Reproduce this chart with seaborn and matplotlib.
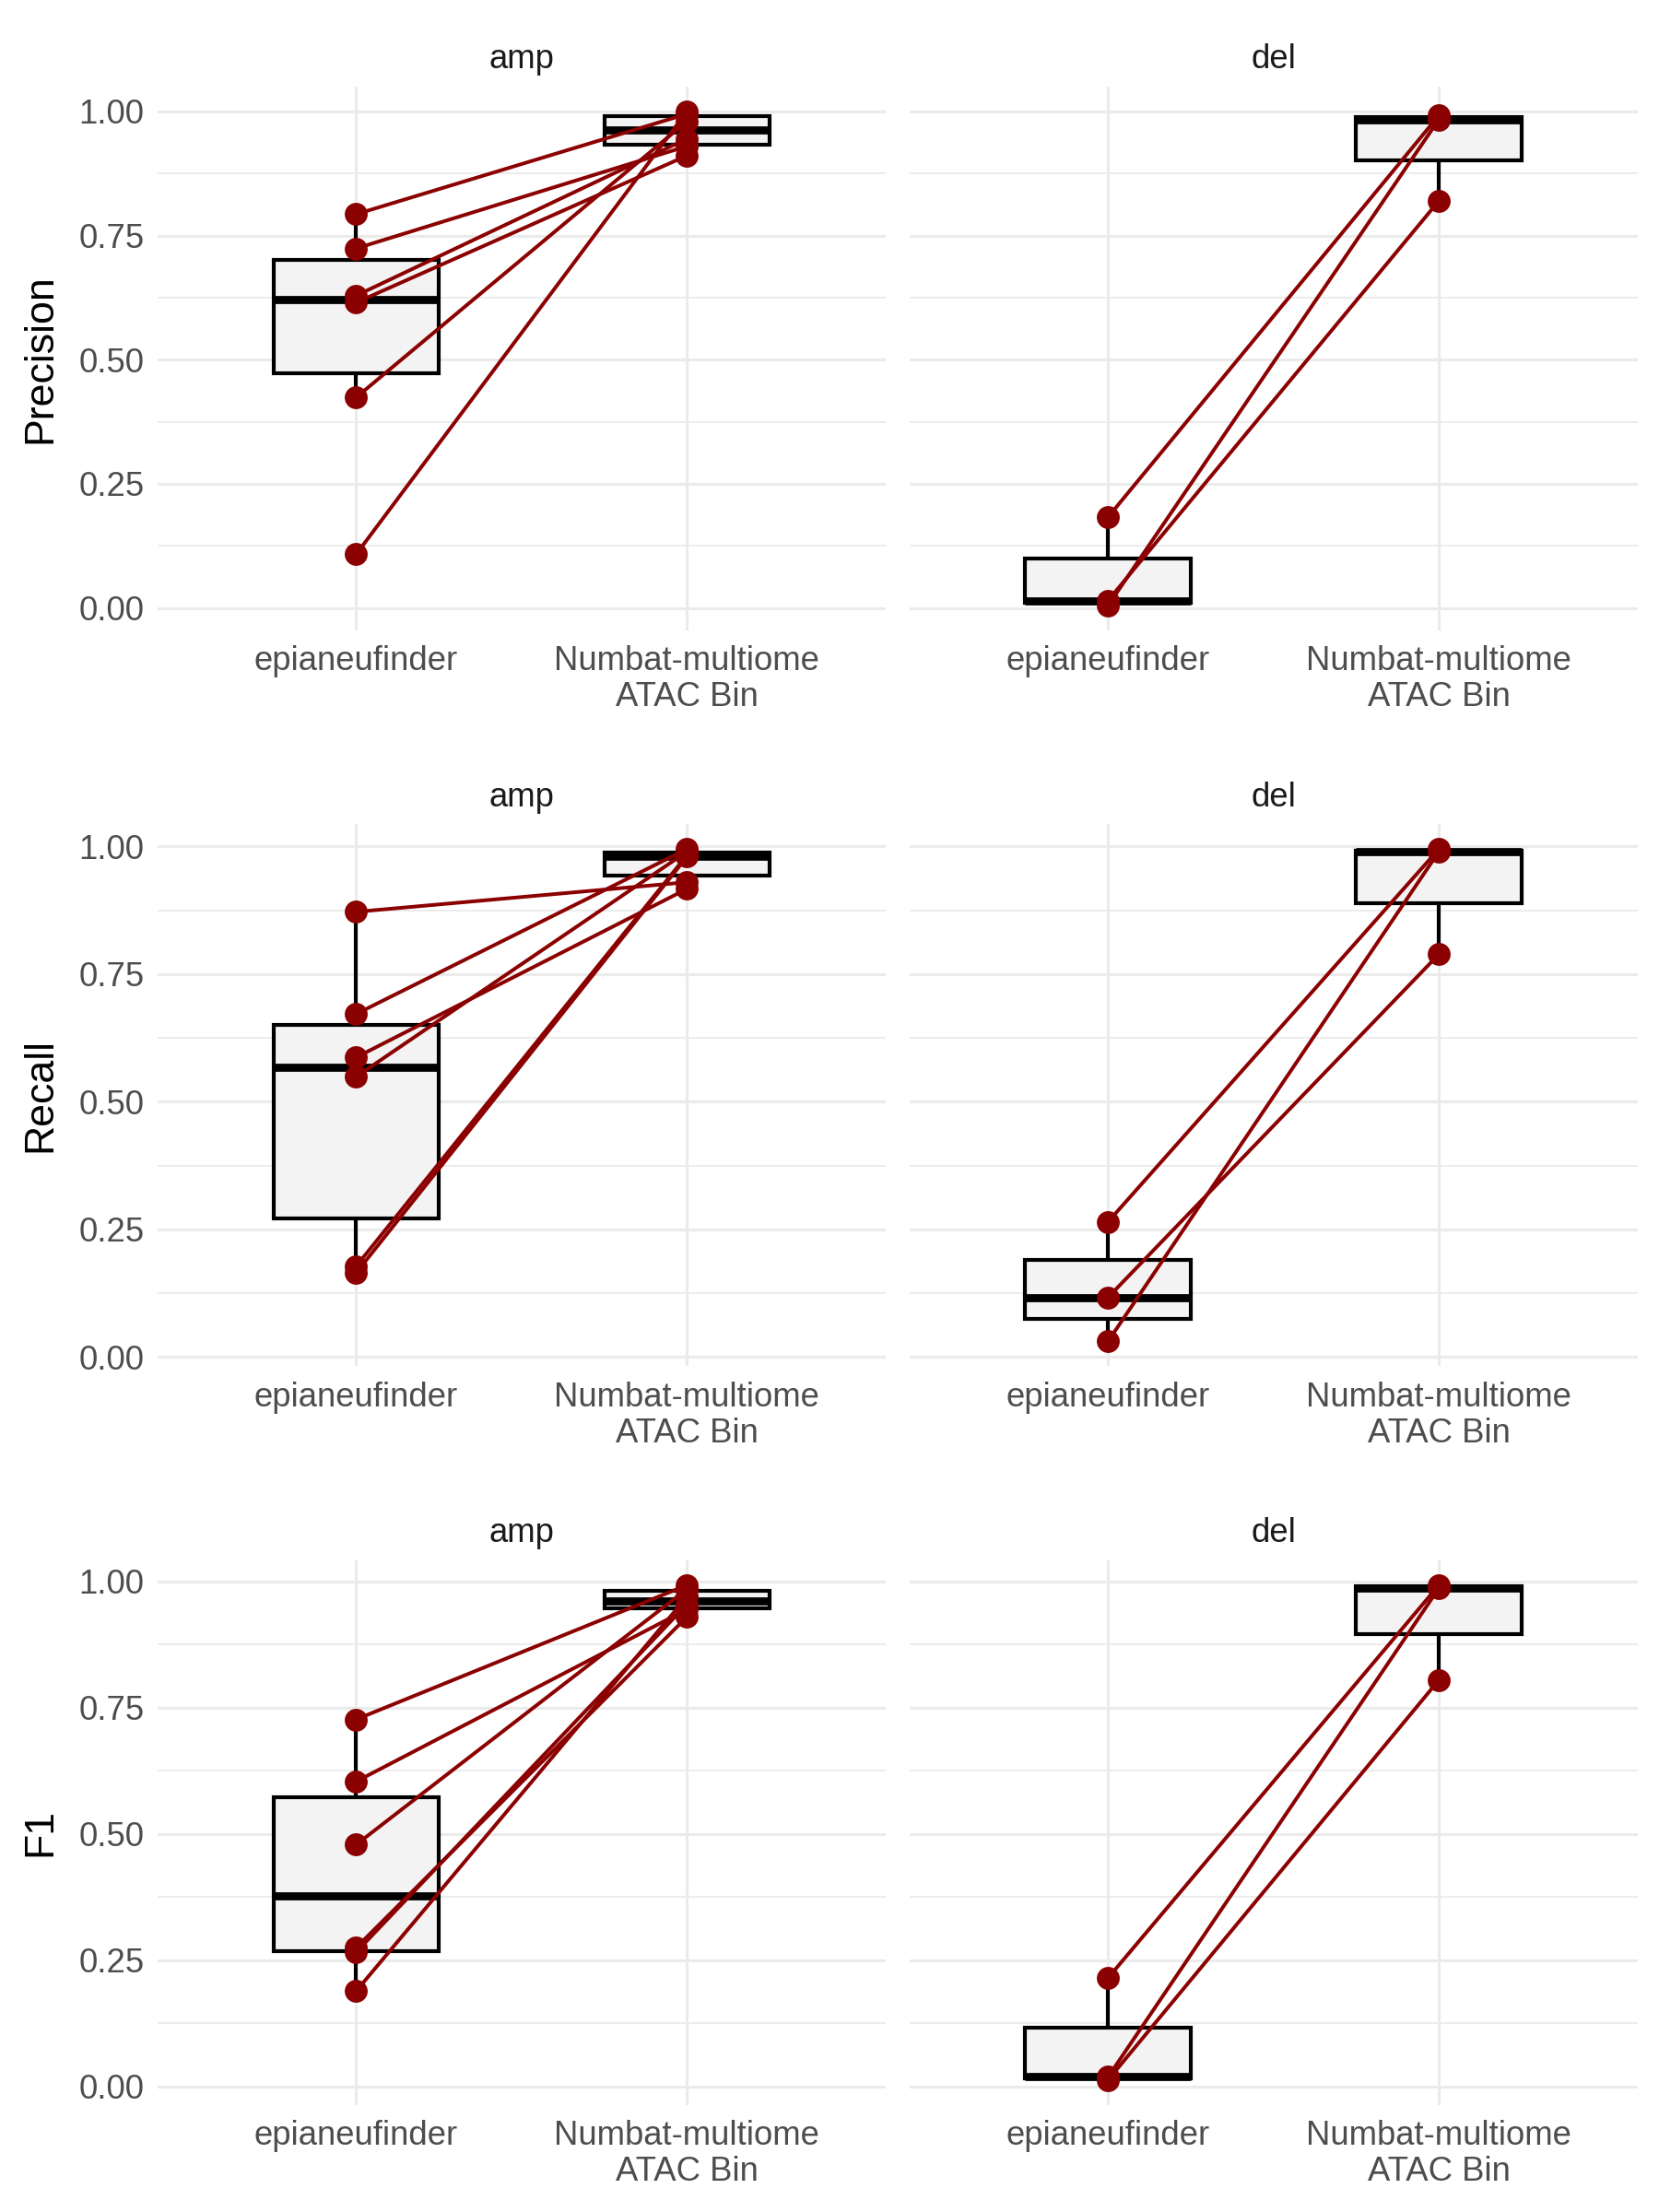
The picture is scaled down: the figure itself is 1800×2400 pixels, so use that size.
import pandas as pd
import matplotlib
matplotlib.use("Agg")
import matplotlib.pyplot as plt
from matplotlib.ticker import MultipleLocator, FormatStrFormatter
import seaborn as sns

methods = ["epianeufinder", "Numbat-multiome\nATAC Bin"]
metrics = ["Precision", "Recall", "F1"]
cnv_types = ["amp", "del"]

# values per sample, same order in both methods so the lines pair up
precision_amp_epi = [0.793, 0.724, 0.629, 0.615, 0.424, 0.108]
precision_amp_numbat = [0.995, 0.930, 0.945, 0.911, 0.980, 1.000]
precision_del_epi = [0.183, 0.005, 0.015]
precision_del_numbat = [0.992, 0.984, 0.820]

recall_amp_epi = [0.872, 0.672, 0.587, 0.549, 0.178, 0.165]
recall_amp_numbat = [0.930, 0.995, 0.917, 0.990, 0.983, 0.980]
recall_del_epi = [0.265, 0.117, 0.031]
recall_del_numbat = [0.995, 0.789, 0.990]

f1_amp_epi = [0.727, 0.604, 0.479, 0.275, 0.266, 0.189]
f1_amp_numbat = [0.993, 0.945, 0.985, 0.930, 0.955, 0.970]
f1_del_epi = [0.215, 0.019, 0.013]
f1_del_numbat = [0.993, 0.987, 0.805]

panel_values = {
    ("Precision", "amp"): (precision_amp_epi, precision_amp_numbat),
    ("Precision", "del"): (precision_del_epi, precision_del_numbat),
    ("Recall", "amp"): (recall_amp_epi, recall_amp_numbat),
    ("Recall", "del"): (recall_del_epi, recall_del_numbat),
    ("F1", "amp"): (f1_amp_epi, f1_amp_numbat),
    ("F1", "del"): (f1_del_epi, f1_del_numbat),
}

rows = []
for (metric, cnv), (epi, numbat) in panel_values.items():
    for i, (a, b) in enumerate(zip(epi, numbat)):
        rows.append(dict(metric=metric, cnv=cnv, method=methods[0], value=a, pair=i))
        rows.append(dict(metric=metric, cnv=cnv, method=methods[1], value=b, pair=i))
df = pd.DataFrame(rows)

sns.set_theme(style="white")
plt.rcParams["font.family"] = ["Liberation Sans", "DejaVu Sans"]

red = "#8B0000"
grid_col = "#EBEBEB"

fig, axes = plt.subplots(3, 2, figsize=(12, 16), dpi=150, sharey="row")
fig.subplots_adjust(left=0.095, right=0.987, top=0.960, bottom=0.047,
                    wspace=0.033, hspace=0.355)

# each row is its own stacked plot, slightly different heights (bottom, top)
row_spans = [(0.7151, 0.9608), (0.3825, 0.6273), (0.0485, 0.2946)]

for r, metric in enumerate(metrics):
    row_vals = df[df.metric == metric].value
    lo, hi = row_vals.min(), row_vals.max()
    pad = 0.05 * (hi - lo)
    for c, cnv in enumerate(cnv_types):
        ax = axes[r, c]
        sub = df[(df.metric == metric) & (df.cnv == cnv)]
        sns.boxplot(data=sub, x="method", y="value", order=methods, width=0.5,
                    showfliers=False, showcaps=False, color="#F3F3F3", saturation=1,
                    linecolor="black", linewidth=2.0,
                    medianprops=dict(linewidth=4.2), ax=ax, zorder=2)
        sns.pointplot(data=sub, x="method", y="value", hue="pair", order=methods,
                      palette=[red] * sub.pair.nunique(), errorbar=None,
                      markersize=10.5, linewidth=1.9, legend=False, ax=ax, zorder=3)

        ax.set_xlim(-0.6, 1.6)
        ax.set_ylim(lo - pad, hi + pad)
        ax.yaxis.set_major_locator(MultipleLocator(0.25))
        ax.yaxis.set_minor_locator(MultipleLocator(0.125))
        ax.yaxis.set_major_formatter(FormatStrFormatter("%.2f"))
        ax.grid(which="major", color=grid_col, linewidth=1.5)
        ax.grid(which="minor", axis="y", color=grid_col, linewidth=0.9)
        ax.set_axisbelow(True)
        for s in ax.spines.values():
            s.set_visible(False)
        ax.tick_params(which="both", length=0, labelsize=17.5, colors="#4D4D4D")
        ax.tick_params(axis="x", pad=8)
        ax.tick_params(axis="y", pad=7)
        for lab in ax.get_xticklabels():
            lab.set_linespacing(1.15)
        ax.set_title(cnv, fontsize=17.5, color="#1A1A1A", pad=9.5)
        ax.set_xlabel("")
        if c == 0:
            ax.set_ylabel(metric, fontsize=21.5, color="black", labelpad=10)
        else:
            ax.set_ylabel("")
            ax.tick_params(axis="y", labelleft=False)

        pos = ax.get_position()
        y0, y1 = row_spans[r]
        ax.set_position([pos.x0, y0, pos.width, y1 - y0])

fig.savefig("out.png", dpi=150, facecolor="white")
